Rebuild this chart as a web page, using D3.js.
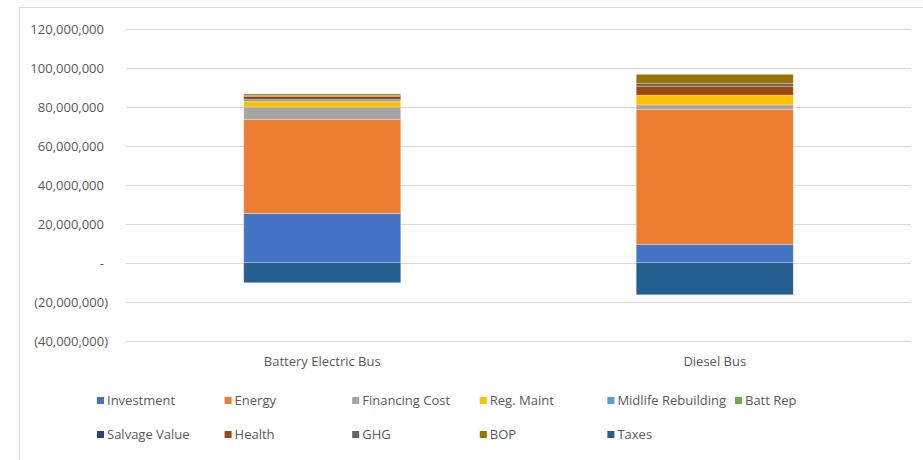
<!DOCTYPE html>
<html>
<head>
<meta charset="utf-8">
<script src="https://cdn.jsdelivr.net/npm/d3@7"></script>
<style>
  html, body { margin: 0; padding: 0; background: #fff; }
  svg { display: block; }
  text { font-family: "Open Sans", sans-serif; fill: #595959; }
</style>
</head>
<body>
<svg id="chart" width="923" height="460"></svg>
<script>
// Life-cycle cost components per bus type (USD)
const categories = ["Battery Electric Bus", "Diesel Bus"];
const investment        = [25.3e6,  9.4e6];
const energy            = [48.3e6, 69.3e6];
const financingCost     = [ 6.4e6,  2.4e6];
const regMaint          = [ 3.0e6,  5.0e6];
const midlifeRebuilding = [ 0.9e6,  0];
const battRep           = [ 0,      0];
const salvageValue      = [ 0,      0];
const health            = [ 1.6e6,  4.6e6];
const ghg               = [ 0.5e6,  1.5e6];
const bop               = [ 0.7e6,  4.6e6];
const taxes             = [-10.3e6, -16.5e6];

const seriesNames = ["Investment", "Energy", "Financing Cost", "Reg. Maint", "Midlife Rebuilding", "Batt Rep",
                     "Salvage Value", "Health", "GHG", "BOP", "Taxes"];
const seriesValues = [investment, energy, financingCost, regMaint, midlifeRebuilding, battRep,
                      salvageValue, health, ghg, bop, taxes];
const seriesColors = ["#4472C4", "#ED7D31", "#A5A5A5", "#FFC000", "#5B9BD5", "#70AD47",
                      "#264478", "#9E480E", "#636363", "#997300", "#255E91"];

const yTickValues = [-40e6, -20e6, 0, 20e6, 40e6, 60e6, 80e6, 100e6, 120e6];
const yTickLabels = ["(40,000,000)", "(20,000,000)", "-", "20,000,000", "40,000,000",
                     "60,000,000", "80,000,000", "100,000,000", "120,000,000"];

// Table for d3.stack: one row per category
const rows = categories.map((c, i) => {
  const r = { category: c };
  seriesNames.forEach((s, k) => { r[s] = seriesValues[k][i]; });
  return r;
});

const svg = d3.select("#chart");

// Chart area frame
svg.append("rect")
  .attr("x", 19.5).attr("y", 7.5)
  .attr("width", 923).attr("height", 470)
  .attr("fill", "none").attr("stroke", "#d9d9d9").attr("stroke-width", 1);

const plot = { left: 126, right: 911 };

const x = d3.scaleBand()
  .domain(categories)
  .range([plot.left, plot.right])
  .paddingInner(0.6)
  .paddingOuter(0.3);

const y = d3.scaleLinear()
  .domain([-40e6, 120e6])
  .range([340.5, 29.2]);

// Horizontal gridlines
svg.append("g")
  .selectAll("line")
  .data(yTickValues)
  .join("line")
  .attr("x1", plot.left).attr("x2", plot.right)
  .attr("y1", d => Math.round(y(d)) + 0.5)
  .attr("y2", d => Math.round(y(d)) + 0.5)
  .attr("stroke", "#d9d9d9").attr("stroke-width", 1);

// Y axis labels
const yAxis = d3.axisLeft(y)
  .tickValues(yTickValues)
  .tickSize(0)
  .tickPadding(0)
  .tickFormat((d, i) => yTickLabels[i]);

const gy = svg.append("g").attr("transform", "translate(108,0)").call(yAxis);
gy.select(".domain").remove();
gy.selectAll(".tick text")
  .attr("x", d => d < 0 ? 0 : -4)
  .attr("dy", "0.35em")
  .style("font-family", "'Open Sans', sans-serif")
  .style("font-size", "13px")
  .attr("fill", "#595959");

// Stacked bars
const stack = d3.stack()
  .keys(seriesNames)
  .offset(d3.stackOffsetDiverging);
const layers = stack(rows);

svg.append("g")
  .selectAll("g")
  .data(layers)
  .join("g")
  .attr("fill", (d, i) => seriesColors[i])
  .selectAll("rect")
  .data(d => d.filter(p => p[1] !== p[0]))
  .join("rect")
  .attr("x", d => x(d.data.category))
  .attr("width", x.bandwidth())
  .attr("y", d => y(Math.max(d[0], d[1])))
  .attr("height", d => Math.abs(y(d[0]) - y(d[1])))
  .attr("stroke", "#ffffff")
  .attr("stroke-opacity", 0.35)
  .attr("stroke-width", 0.75);

// Category labels
const xAxis = d3.axisBottom(x).tickSize(0).tickPadding(0);
const gx = svg.append("g").attr("transform", "translate(0,357)").call(xAxis);
gx.select(".domain").remove();
gx.selectAll(".tick text")
  .attr("dy", "0.71em")
  .style("font-family", "'Open Sans', sans-serif")
  .style("font-size", "13px")
  .attr("fill", "#595959");

// Legend: two rows of six columns
const legendCols = 6;
const legendX = d3.scaleLinear().domain([0, 1]).range([97, 224.6]);
const legendY = d3.scaleLinear().domain([0, 1]).range([400.5, 434.5]);

const legend = svg.append("g")
  .selectAll("g")
  .data(seriesNames)
  .join("g")
  .attr("transform", (d, i) => `translate(${legendX(i % legendCols)},${legendY(Math.floor(i / legendCols))})`);

legend.append("rect")
  .attr("x", 0).attr("y", -3.5)
  .attr("width", 7).attr("height", 7)
  .attr("fill", (d, i) => seriesColors[i]);

legend.append("text")
  .attr("x", 10)
  .attr("dy", "0.35em")
  .style("font-size", "13px")
  .text(d => d);
</script>
</body>
</html>
